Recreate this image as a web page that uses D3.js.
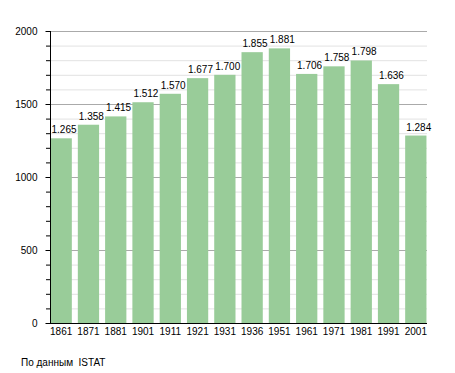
<!DOCTYPE html>
<html>
<head>
<meta charset="utf-8">
<script src="https://cdn.jsdelivr.net/npm/d3@7"></script>
<style>
  body { margin: 0; background: #fff; }
  svg text { font-family: "Liberation Sans", Arial, sans-serif; font-size: 10px; fill: #000; }
</style>
</head>
<body>
<div id="chart"></div>
<script>
// Population by census year.
const years = ['1861', '1871', '1881', '1901', '1911', '1921', '1931', '1936', '1951', '1961', '1971', '1981', '1991', '2001'];
const population = [1265, 1358, 1415, 1512, 1570, 1677, 1700, 1855, 1881, 1706, 1758, 1798, 1636, 1284];
const yMajorTicks = [0, 500, 1000, 1500, 2000];
const sourceNote = 'По данным  ISTAT';

const width = 455;
const height = 373;
const plotLeft = 50, plotRight = 427, plotTop = 31, plotBottom = 323;

const svg = d3.select('#chart')
    .append('svg')
    .attr('width', width)
    .attr('height', height);

const x = d3.scaleBand()
    .domain(years)
    .range([plotLeft, plotRight])
    .paddingInner(0.22)
    .paddingOuter(0.02);

const y = d3.scaleLinear()
    .domain([0, 2000])
    .range([plotBottom, plotTop]);

// Minor grid every 100, major every 500.
const minorTicks = d3.range(100, 2000, 100).filter(v => v % 500 !== 0);

svg.append('g')
    .selectAll('line')
    .data(minorTicks)
    .enter()
    .append('line')
    .attr('x1', plotLeft)
    .attr('x2', plotRight)
    .attr('y1', d => y(d) + 0.5)
    .attr('y2', d => y(d) + 0.5)
    .attr('stroke', '#e2e2e2');

svg.append('g')
    .selectAll('line')
    .data(yMajorTicks.filter(v => v > 0))
    .enter()
    .append('line')
    .attr('x1', plotLeft)
    .attr('x2', plotRight)
    .attr('y1', d => y(d) + 0.5)
    .attr('y2', d => y(d) + 0.5)
    .attr('stroke', '#aaaaaa');

// Bars.
svg.append('g')
    .selectAll('rect')
    .data(population)
    .enter()
    .append('rect')
    .attr('x', (d, i) => x(years[i]))
    .attr('y', d => y(d))
    .attr('width', x.bandwidth())
    .attr('height', d => y(0) - y(d))
    .attr('fill', '#99cc99');

// Value labels, Italian thousands separator, left-aligned on the bar.
const fmt = d3.formatLocale({ decimal: ',', thousands: '.', grouping: [3], currency: ['', ''] }).format(',d');

svg.append('g')
    .selectAll('text')
    .data(population)
    .enter()
    .append('text')
    .attr('x', (d, i) => x(years[i]) + 1)
    .attr('y', d => y(d) - 5)
    .attr('text-anchor', 'start')
    .text(d => fmt(d));

// Y axis with minor ticks.
const yAxis = svg.append('g')
    .attr('transform', `translate(${plotLeft + 0.5},0)`)
    .call(d3.axisLeft(y).tickValues(yMajorTicks).tickSize(5).tickPadding(8).tickFormat(d3.format('d')));

svg.append('g')
    .selectAll('line')
    .data(minorTicks)
    .enter()
    .append('line')
    .attr('x1', plotLeft - 4)
    .attr('x2', plotLeft)
    .attr('y1', d => y(d) + 0.5)
    .attr('y2', d => y(d) + 0.5)
    .attr('stroke', '#000');

yAxis.select('.domain').attr('d', `M0,${plotTop}V${plotBottom + 0.5}`);

// X axis.
const xAxis = svg.append('g')
    .attr('transform', `translate(0,${plotBottom + 0.5})`)
    .call(d3.axisBottom(x).tickSize(0).tickPadding(4));

xAxis.select('.domain').attr('d', `M${plotLeft},0H${plotRight}`);

svg.selectAll('.tick text').style('font-size', '10px').style('font-family', '"Liberation Sans", Arial, sans-serif');

// Source note.
svg.append('text')
    .attr('x', 21)
    .attr('y', 366)
    .attr('xml:space', 'preserve')
    .style('white-space', 'pre')
    .text(sourceNote);
</script>
</body>
</html>
